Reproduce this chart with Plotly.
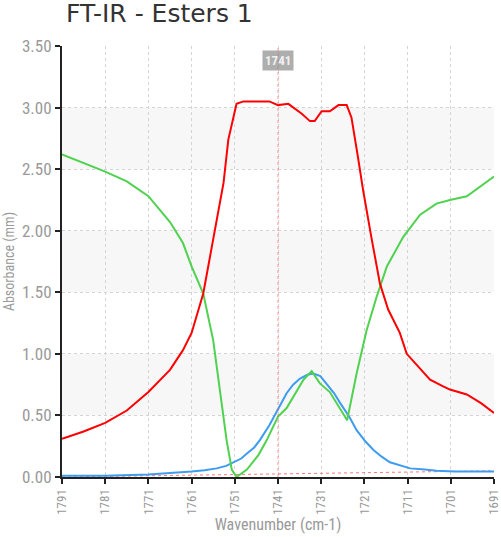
import plotly.graph_objects as go

# ---- data ----
red_x = [1791, 1786, 1781, 1776, 1771, 1766, 1763, 1761, 1758.3, 1756, 1753.6, 1752.5,
         1750.6, 1749, 1746, 1743, 1741, 1738.6, 1735.5, 1733.6, 1732.5, 1730.9, 1729,
         1727, 1725.1, 1724, 1722.5, 1721.3, 1719.3, 1717.4, 1715.5, 1712.8, 1711.2,
         1708, 1705.8, 1703, 1701.2, 1697.3, 1694, 1691]
red_y = [0.31, 0.37, 0.44, 0.54, 0.69, 0.87, 1.03, 1.17, 1.49, 1.93, 2.39, 2.74,
         3.03, 3.05, 3.05, 3.05, 3.02, 3.03, 2.95, 2.89, 2.89, 2.97, 2.97,
         3.02, 3.02, 2.92, 2.6, 2.33, 1.93, 1.57, 1.36, 1.17, 1.0,
         0.88, 0.79, 0.74, 0.71, 0.67, 0.6, 0.52]

green_x = [1791, 1786, 1781, 1776, 1771, 1766, 1763, 1761, 1758.3, 1756, 1754.4, 1752.9,
           1751.7, 1750.6, 1748.2, 1745.5, 1743.6, 1741, 1739, 1735.1, 1733.2, 1731.3,
           1729, 1725, 1722.8, 1720.5, 1718.2, 1715.8, 1712, 1708.1, 1704.3, 1701.2,
           1697.3, 1694.2, 1691]
green_y = [2.62, 2.55, 2.48, 2.4, 2.28, 2.07, 1.9, 1.71, 1.49, 1.11, 0.71, 0.3,
           0.06, 0.0, 0.06, 0.18, 0.3, 0.49, 0.56, 0.79, 0.86, 0.76,
           0.69, 0.46, 0.84, 1.19, 1.46, 1.71, 1.95, 2.13, 2.22, 2.25,
           2.28, 2.36, 2.44]

blue_x = [1791, 1781, 1771, 1766, 1761, 1758, 1755.2, 1753, 1751.3, 1749.5, 1748.2, 1746.5,
          1745.2, 1743, 1741, 1739, 1737.5, 1735.9, 1734.2, 1732.8, 1731.2, 1729.7, 1728,
          1726.6, 1724.5, 1722.8, 1720.8, 1718.9, 1717, 1715.1, 1712.5, 1710.4, 1707,
          1704.3, 1700, 1691]
blue_y = [0.01, 0.01, 0.02, 0.03, 0.045, 0.055, 0.07, 0.09, 0.12, 0.15, 0.19, 0.24,
          0.3, 0.42, 0.55, 0.68, 0.75, 0.8, 0.83, 0.84, 0.82, 0.75, 0.68,
          0.6, 0.49, 0.38, 0.29, 0.22, 0.165, 0.12, 0.09, 0.07, 0.06,
          0.05, 0.045, 0.045]

baseline_x = [1791, 1691]
baseline_y = [0.0, 0.05]

cursor_x = 1741
x_ticks = [1791, 1781, 1771, 1761, 1751, 1741, 1731, 1721, 1711, 1701, 1691]
y_ticks = [0, 0.5, 1.0, 1.5, 2.0, 2.5, 3.0, 3.5]
bands = [(0.5, 1.0), (1.5, 2.0), (2.5, 3.0)]

TICKFONT = "Liberation Sans Narrow, Roboto Condensed, Roboto, sans-serif"

W, H = 501, 537

fig = go.Figure()
fig.add_trace(go.Scatter(x=baseline_x, y=baseline_y, mode="lines",
                         line=dict(color="rgba(255,60,60,0.7)", width=1, dash="dot"),
                         hoverinfo="skip"))
fig.add_trace(go.Scatter(x=blue_x, y=blue_y, mode="lines",
                         line=dict(color="#3d9cf0", width=2)))
fig.add_trace(go.Scatter(x=green_x, y=green_y, mode="lines",
                         line=dict(color="#4fd24f", width=2)))
fig.add_trace(go.Scatter(x=red_x, y=red_y, mode="lines",
                         line=dict(color="#ff0000", width=2)))

shapes = []
for y0, y1 in bands:
    shapes.append(dict(type="rect", xref="paper", yref="y", x0=0, x1=1, y0=y0, y1=y1,
                       fillcolor="#f7f7f7", line=dict(width=0), layer="below"))
shapes.append(dict(type="line", xref="x", yref="paper", x0=cursor_x, x1=cursor_x, y0=0, y1=1,
                   line=dict(color="rgba(255,80,80,0.6)", width=1, dash="dot")))

fig.update_layout(
    width=W, height=H,
    margin=dict(l=62, r=7, t=46, b=60, autoexpand=False),
    paper_bgcolor="white", plot_bgcolor="white",
    showlegend=False,
    shapes=shapes,
    title=dict(text="FT-IR - Esters 1", x=66/W, xanchor="left", xref="container",
               y=1 - 4/H, yanchor="top", yref="container",
               font=dict(family="DejaVu Sans", size=25, color="#333333")),
    annotations=[dict(x=cursor_x, y=3.38, xref="x", yref="y", text="<b>1741</b>", showarrow=False,
                      font=dict(family=TICKFONT, size=13, color="#f0f0f0"),
                      bgcolor="rgba(140,140,140,0.7)", borderpad=2)],
)
fig.update_xaxes(range=[1791, 1691], tickvals=x_ticks, ticktext=[str(v) for v in x_ticks],
                 automargin=False, ticklabeloverflow="allow",
                 tickangle=-90, tickfont=dict(family=TICKFONT, size=13, color="#999999"),
                 showline=True, linecolor="#222222", linewidth=2,
                 ticks="outside", ticklen=5, tickcolor="#222222", tickwidth=2,
                 showgrid=True, gridcolor="#d4d4d4", griddash="dot", gridwidth=1,
                 zeroline=False,
                 title=dict(text="Wavenumber (cm-1)", standoff=2,
                            font=dict(family=TICKFONT, size=16, color="#999999")))
fig.update_yaxes(range=[0, 3.5], tickvals=y_ticks, tickformat=".2f",
                 automargin=False, ticklabeloverflow="allow",
                 tickfont=dict(family=TICKFONT, size=17, color="#999999"),
                 showline=True, linecolor="#222222", linewidth=2,
                 ticks="outside", ticklen=5, tickcolor="#222222", tickwidth=2,
                 showgrid=True, gridcolor="#d4d4d4", griddash="dot", gridwidth=1,
                 zeroline=False,
                 title=dict(text="Absorbance (mm)", standoff=4,
                            font=dict(family=TICKFONT, size=14, color="#999999")))

fig.write_html("out.html",
               config={"displayModeBar": False},
               post_script="document.body.style.margin='0';document.body.style.overflow='hidden';")
